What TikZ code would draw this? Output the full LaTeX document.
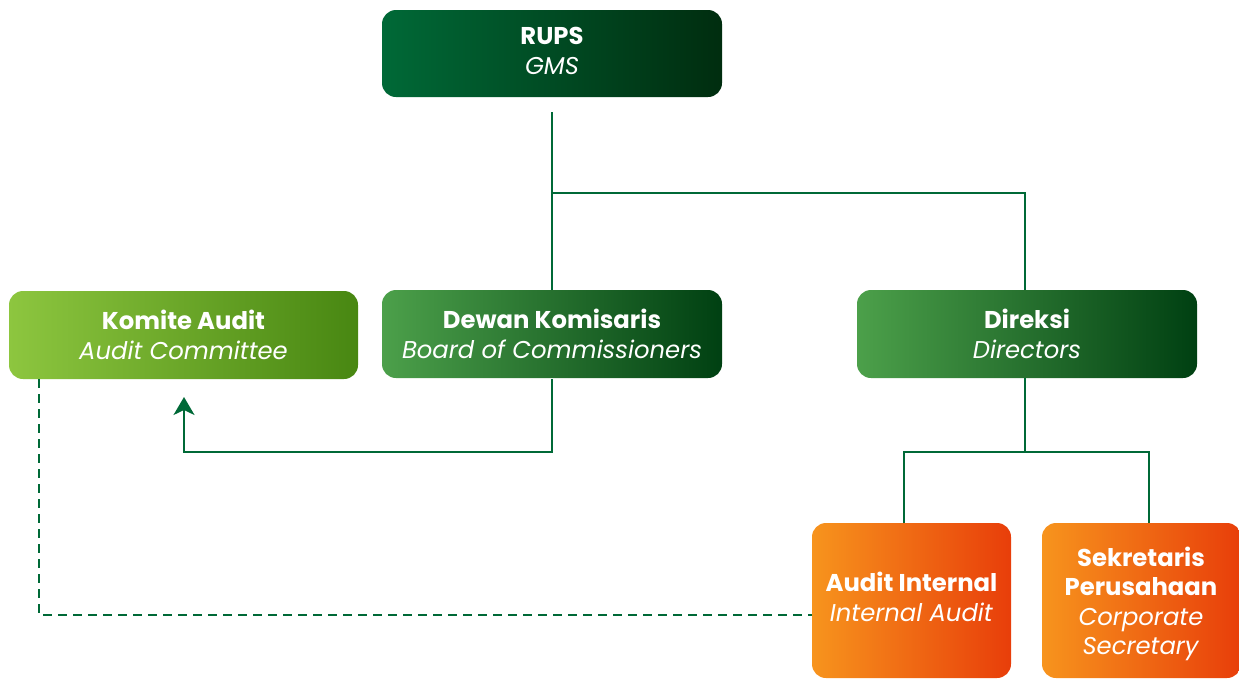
\documentclass[tikz,border=0pt]{standalone}
\usepackage{fontspec}
\setmainfont{Poppins}
\usetikzlibrary{arrows.meta}
\definecolor{lineg}{RGB}{0,105,55}
\definecolor{rupsL}{RGB}{0,105,55}
\definecolor{rupsR}{RGB}{0,45,15}
\definecolor{midL}{RGB}{76,160,74}
\definecolor{midR}{RGB}{0,64,18}
\definecolor{komL}{RGB}{141,198,63}
\definecolor{komR}{RGB}{72,135,18}
\definecolor{orL}{RGB}{247,148,29}
\definecolor{orR}{RGB}{232,62,10}
\tikzset{
  box/.style={rounded corners=14pt, text=white, align=center, inner sep=0pt,
    font=\fontsize{24.3}{29.5}\selectfont},
  conn/.style={draw=lineg, line width=2pt},
  dconn/.style={draw=lineg, line width=2pt, dash pattern=on 9pt off 6pt},
}
\begin{document}
\begin{tikzpicture}[x=1pt,y=-1pt]
\useasboundingbox (0,0) rectangle (1239,678);
% boxes
\path[box, left color=rupsL, right color=rupsR] (382,10) rectangle (722,97);
\node[box] (rups) at (552,51) {\textbf{RUPS}\\\textit{GMS}};
\path[box, left color=komL, right color=komR] (9,291) rectangle (358,379);
\node[box] (kom) at (183.5,335) {\textbf{Komite Audit}\\\textit{Audit Committee}};
\path[box, left color=midL, right color=midR] (382,290) rectangle (722,378);
\node[box] (dewan) at (552,334) {\textbf{Dewan Komisaris}\\\textit{Board of Commissioners}};
\path[box, left color=midL, right color=midR] (857,290) rectangle (1197,378);
\node[box] (dir) at (1027,334) {\textbf{Direksi}\\\textit{Directors}};
\path[box, left color=orL, right color=orR] (812,523) rectangle (1011,678);
\node[box] (ai) at (911.5,597) {\textbf{Audit Internal}\\\textit{Internal Audit}};
\path[box, left color=orL, right color=orR] (1042,523) rectangle (1241,678);
\node[box] (sek) at (1141,604) {\textbf{Sekretaris}\\\textbf{Perusahaan}\\\textit{Corporate}\\\textit{Secretary}};
% connector coordinates
\coordinate (rupsB) at (552,112);
\coordinate (dewanT) at (552,290);
\coordinate (dewanB) at (552,379);
\coordinate (dirT) at (1025,290);
\coordinate (dirB) at (1025,378);
\coordinate (komT) at (184,397);
\coordinate (komBL) at (39,379);
\coordinate (aiL) at (812,615);
\coordinate (aiT) at (904,523);
\coordinate (sekT) at (1149,523);
% connectors
\draw[conn] (rupsB) -- (dewanT);
\draw[conn] (552,193) -| (dirT);
\draw[conn, -{Stealth[length=18pt,width=21pt,inset=5pt]}] (dewanB) |- (184,452) -- (komT);
\draw[conn] (dirB) -- (1025,452);
\draw[conn] (aiT) |- (sekT |- 0,452) -- (sekT);
\draw[dconn] (komBL) |- (aiL);
\end{tikzpicture}
\end{document}
